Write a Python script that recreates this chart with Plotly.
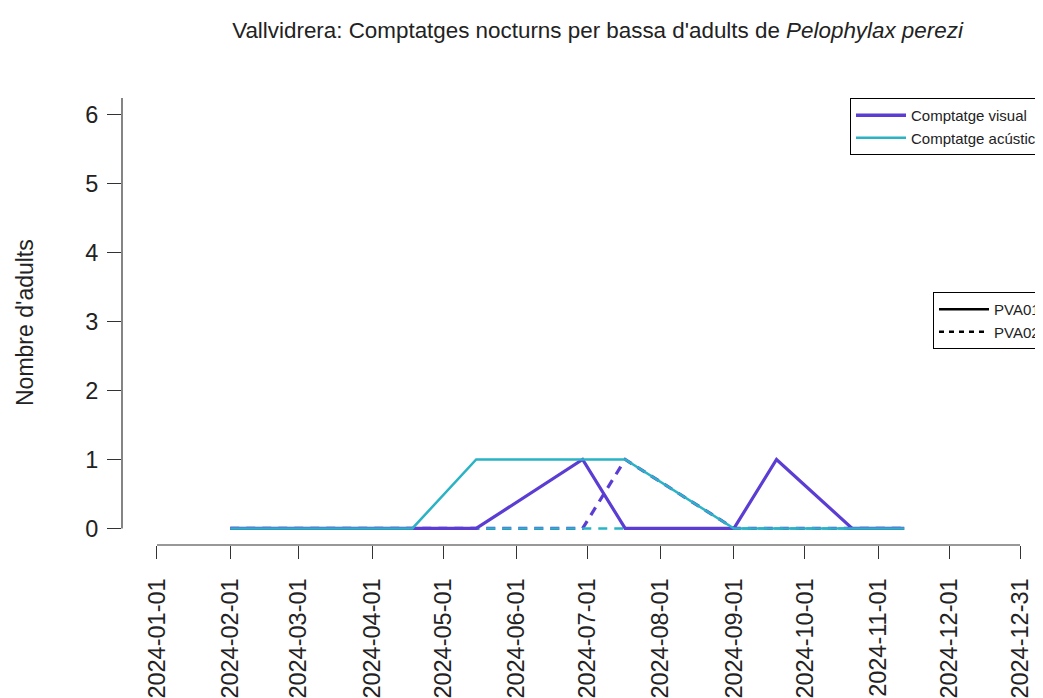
import plotly.graph_objects as go

# sampling dates (same for both ponds)
dates = ["2024-02-01", "2024-04-18", "2024-05-15", "2024-06-29", "2024-07-17",
         "2024-09-01", "2024-09-19", "2024-10-21", "2024-11-12"]

visual_pva01 = [0, 0, 0, 1, 0, 0, 1, 0, 0]
acustic_pva01 = [0, 0, 1, 1, 1, 0, 0, 0, 0]
visual_pva02 = [0, 0, 0, 0, 1, 0, 0, 0, 0]
acustic_pva02 = [0, 0, 0, 0, 0, 0, 0, 0, 0]

tick_dates = ["2024-01-01", "2024-02-01", "2024-03-01", "2024-04-01", "2024-05-01",
              "2024-06-01", "2024-07-01", "2024-08-01", "2024-09-01", "2024-10-01",
              "2024-11-01", "2024-12-01", "2024-12-31"]
y_ticks = [0, 1, 2, 3, 4, 5, 6]

purple = "#5b3dd3"
teal = "#2ab3c4"
fnt = "Liberation Sans, Arial, sans-serif"

W, H = 1043, 698
L, T, B = 114, 90, 161
pw, ph = W - L, H - T - B

fig = go.Figure()

# pond PVA02 (dashed) first, PVA01 (solid) on top
fig.add_trace(go.Scatter(x=dates, y=visual_pva02, mode="lines", showlegend=False,
                         line=dict(color=purple, width=3.2, dash="9px,7px")))
fig.add_trace(go.Scatter(x=dates, y=acustic_pva02, mode="lines", showlegend=False,
                         line=dict(color=teal, width=2.5, dash="9px,7px")))
fig.add_trace(go.Scatter(x=dates, y=visual_pva01, mode="lines", showlegend=False,
                         line=dict(color=purple, width=3.2)))
fig.add_trace(go.Scatter(x=dates, y=acustic_pva01, mode="lines", showlegend=False,
                         line=dict(color=teal, width=2.5)))

# legend-only entries
fig.add_trace(go.Scatter(x=[None], y=[None], mode="lines", name="Comptatge visual",
                         line=dict(color=purple, width=3.5), legend="legend"))
fig.add_trace(go.Scatter(x=[None], y=[None], mode="lines", name="Comptatge acústic",
                         line=dict(color=teal, width=2.5), legend="legend"))
fig.add_trace(go.Scatter(x=[None], y=[None], mode="lines", name="PVA01",
                         line=dict(color="black", width=2.5), legend="legend2"))
fig.add_trace(go.Scatter(x=[None], y=[None], mode="lines", name="PVA02",
                         line=dict(color="black", width=2.5, dash="5px,5px"), legend="legend2"))

# R-style axis lines (only across the tick span)
fig.add_shape(type="line", xref="x", yref="paper", x0=tick_dates[0], x1=tick_dates[-1],
              y0=0, y1=0, line=dict(color="#333", width=1.2))
fig.add_shape(type="line", xref="paper", yref="y", x0=0, x1=0, y0=0, y1=6.26,
              line=dict(color="#333", width=1.2))

fig.add_annotation(text="Nombre d'adults", xref="paper", yref="paper",
                   x=(17 - L) / pw, y=(537 - 315) / ph, xanchor="center", yanchor="middle",
                   textangle=-90, showarrow=False,
                   font=dict(size=23, family=fnt, color="#222"))

fig.update_layout(
    width=W, height=H,
    margin=dict(l=L, r=0, t=T, b=B, autoexpand=False),
    paper_bgcolor="white", plot_bgcolor="white",
    font=dict(family=fnt, color="#222"),
    title=dict(text="Vallvidrera: Comptatges nocturns per bassa d'adults de <i>Pelophylax perezi</i>",
               x=589.5 / W, xanchor="center", y=1 - 22 / H, yanchor="middle",
               font=dict(size=22.4, family=fnt, color="#222")),
    xaxis=dict(type="date", range=["2023-12-17 05:00", "2025-01-13 02:00"],
               tickvals=tick_dates, ticktext=tick_dates, tickangle=-90,
               ticks="outside", ticklen=13, tickwidth=1.2, tickcolor="#333",
               ticklabelstandoff=10,
               tickfont=dict(size=23.5, family=fnt, color="#222"),
               showgrid=False, zeroline=False, showline=False),
    yaxis=dict(range=[-0.24, 6.24], tickvals=y_ticks, ticks="outside", ticklen=14,
               tickwidth=1.2, tickcolor="#333", ticklabelstandoff=4,
               tickfont=dict(size=23.5, family=fnt, color="#222"),
               showgrid=False, zeroline=False, showline=False),
    legend=dict(x=(842 - L) / pw, y=1.0, xanchor="left", yanchor="top",
                bordercolor="black", borderwidth=1, bgcolor="white", itemwidth=50,
                font=dict(size=15, family=fnt, color="#222"), tracegroupgap=0),
    legend2=dict(x=(925 - L) / pw, y=(537 - 284) / ph, xanchor="left", yanchor="top",
                 bordercolor="black", borderwidth=1, bgcolor="white", itemwidth=50,
                 font=dict(size=15, family=fnt, color="#222"), tracegroupgap=0),
)

fig.write_html("out.html")
